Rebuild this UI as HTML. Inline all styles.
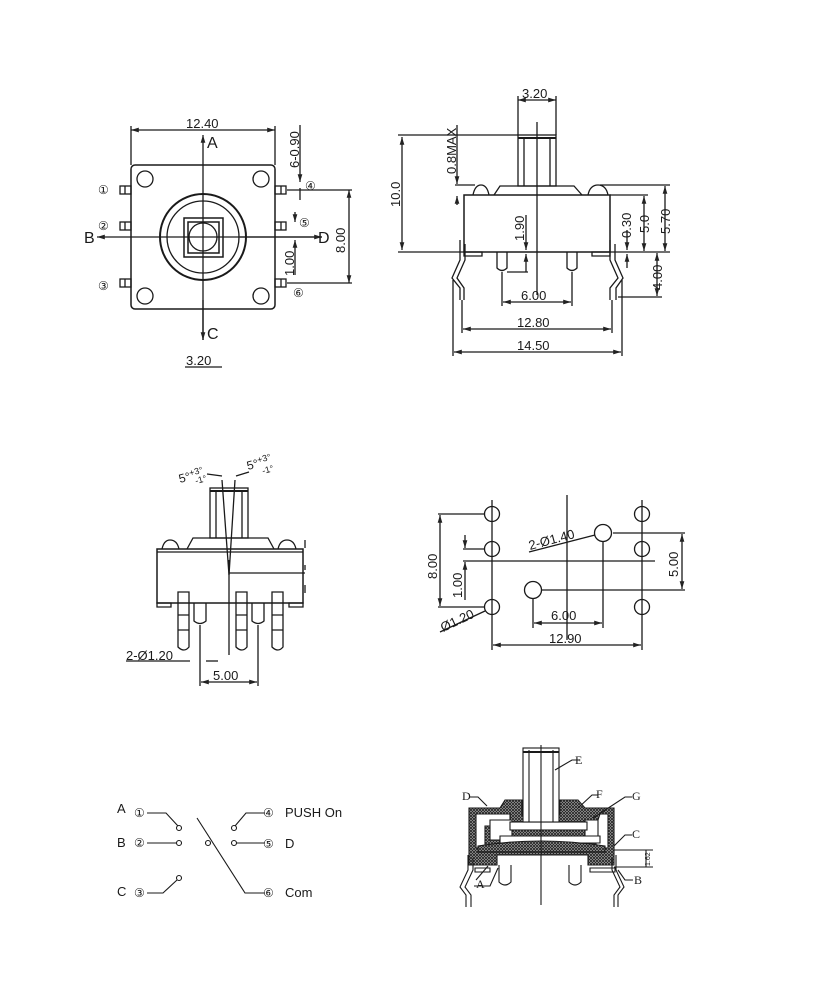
<!DOCTYPE html>
<html><head><meta charset="utf-8"><style>
html,body{margin:0;padding:0;background:#fff}
svg{display:block}
text{font-family:"Liberation Sans","DejaVu Sans",sans-serif;fill:#1a1a1a}
</style></head><body>
<svg width="823" height="989" viewBox="0 0 823 989" xmlns="http://www.w3.org/2000/svg">
<defs>
<pattern id="h" width="3" height="3" patternUnits="userSpaceOnUse">
<rect width="3" height="3" fill="#bbb"/>
<path d="M0 0L3 3M3 0L0 3" stroke="#222" stroke-width="0.9"/>
</pattern>
<marker id="a" viewBox="0 0 10 10" refX="10" refY="5" markerWidth="6" markerHeight="6" orient="auto-start-reverse"><path d="M0 2L10 5L0 8z" fill="#222"/></marker>
</defs>
<g fill="none" stroke="#1a1a1a" stroke-width="1.3">
<!-- TOP VIEW -->
<rect x="131" y="165" width="144" height="144" rx="4" stroke-width="1.5"/>
<circle cx="145" cy="179" r="8"/><circle cx="261" cy="179" r="8"/>
<circle cx="145" cy="296" r="8"/><circle cx="261" cy="296" r="8"/>
<circle cx="203" cy="237" r="43" stroke-width="2"/>
<circle cx="203" cy="237" r="36"/>
<path d="M184 218h39v39h-39z M188 222h31v31h-31z" stroke-width="1.5"/>
<circle cx="203" cy="237" r="14"/>
<g>
<rect x="120" y="186" width="11" height="8"/><line x1="125" y1="186" x2="125" y2="194"/>
<rect x="120" y="222" width="11" height="8"/><line x1="125" y1="222" x2="125" y2="230"/>
<rect x="120" y="279" width="11" height="8"/><line x1="125" y1="279" x2="125" y2="287"/>
<rect x="275" y="186" width="11" height="8"/><line x1="281" y1="186" x2="281" y2="194"/>
<rect x="275" y="222" width="11" height="8"/><line x1="281" y1="222" x2="281" y2="230"/>
<rect x="275" y="279" width="11" height="8"/><line x1="281" y1="279" x2="281" y2="287"/>
</g>
<line x1="203" y1="340" x2="203" y2="135" marker-end="url(#a)"/>
<line x1="203" y1="300" x2="203" y2="340" marker-end="url(#a)"/>
<line x1="322" y1="237" x2="97" y2="237" marker-end="url(#a)"/>
<line x1="240" y1="237" x2="322" y2="237" marker-end="url(#a)"/>
<line x1="131" y1="130" x2="275" y2="130" marker-start="url(#a)" marker-end="url(#a)"/>
<line x1="131" y1="126" x2="131" y2="165"/><line x1="275" y1="126" x2="275" y2="165"/>
<line x1="287" y1="190" x2="352" y2="190"/><line x1="287" y1="283" x2="352" y2="283"/>
<line x1="349" y1="190" x2="349" y2="283" marker-start="url(#a)" marker-end="url(#a)"/>
<line x1="300" y1="125" x2="300" y2="182" marker-end="url(#a)"/>
<line x1="300" y1="200" x2="300" y2="188" />
<line x1="295" y1="212" x2="295" y2="222" marker-end="url(#a)"/>
<line x1="295" y1="275" x2="295" y2="240" marker-end="url(#a)"/>
<line x1="185" y1="367" x2="222" y2="367"/>
</g>
<g font-size="13">
<text x="186" y="128">12.40</text>
<text x="207" y="148" font-size="16">A</text>
<text x="207" y="339" font-size="16">C</text>
<text x="84" y="243" font-size="16">B</text>
<text x="318" y="243" font-size="16">D</text>
<text x="98" y="194" font-size="12">①</text><text x="98" y="230" font-size="12">②</text><text x="98" y="290" font-size="12">③</text>
<text x="305" y="190" font-size="12">④</text><text x="299" y="227" font-size="12">⑤</text><text x="293" y="297" font-size="12">⑥</text>
<text transform="translate(299,168) rotate(-90)">6-0.90</text>
<text transform="translate(345,253) rotate(-90)">8.00</text>
<text transform="translate(294,276) rotate(-90)">1.00</text>
<text x="186" y="365">3.20</text>
</g>

<!-- SIDE VIEW -->
<g fill="none" stroke="#1a1a1a" stroke-width="1.3">
<rect x="518" y="135" width="38" height="51"/>
<line x1="524" y1="138" x2="524" y2="186"/><line x1="550" y1="138" x2="550" y2="186"/>
<line x1="518" y1="138" x2="556" y2="138" stroke-width="2"/>
<path d="M494 195L500 186H574L582 195"/>
<path d="M473 195Q475 185 481 185Q487 185 489 195"/>
<path d="M588 195Q590 185 598 185Q606 185 608 195"/>
<rect x="464" y="195" width="146" height="57" stroke-width="1.5"/>
<path d="M464 252h18v4h-18z M592 252h18v4h-18z"/>
<path d="M497 252v16q5 5 10 0v-16 M567 252v16q5 5 10 0v-16"/>
<path d="M460 240v20l-8 18 8 10v12 M465 244v16l-8 18 7 10v12"/>
<path d="M610 240v20l8 18 -8 10v12 M615 244v16l8 18 -7 10v12"/>
<line x1="537" y1="122" x2="537" y2="295"/>
<line x1="518" y1="100" x2="556" y2="100" marker-start="url(#a)" marker-end="url(#a)"/>
<line x1="518" y1="96" x2="518" y2="135"/><line x1="556" y1="96" x2="556" y2="135"/>
<line x1="398" y1="135" x2="518" y2="135"/><line x1="398" y1="252" x2="464" y2="252"/>
<line x1="402" y1="137" x2="402" y2="250" marker-start="url(#a)" marker-end="url(#a)"/>
<line x1="457" y1="125" x2="457" y2="184" marker-end="url(#a)"/>
<line x1="455" y1="185" x2="475" y2="185"/>
<line x1="457" y1="205" x2="457" y2="196" marker-end="url(#a)"/>
<line x1="526" y1="215" x2="526" y2="250" marker-end="url(#a)"/>
<line x1="526" y1="272" x2="526" y2="254" marker-end="url(#a)"/>
<line x1="507" y1="272" x2="528" y2="272"/>
<line x1="600" y1="185" x2="670" y2="185"/><line x1="610" y1="195" x2="648" y2="195"/>
<line x1="610" y1="252" x2="670" y2="252"/>
<line x1="665" y1="186" x2="665" y2="251" marker-start="url(#a)" marker-end="url(#a)"/>
<line x1="644" y1="196" x2="644" y2="251" marker-start="url(#a)" marker-end="url(#a)"/>
<line x1="627" y1="230" x2="627" y2="250" marker-end="url(#a)"/>
<line x1="627" y1="268" x2="627" y2="254" marker-end="url(#a)"/>
<line x1="618" y1="297" x2="662" y2="297"/>
<line x1="657" y1="253" x2="657" y2="296" marker-start="url(#a)" marker-end="url(#a)"/>
<line x1="502" y1="272" x2="502" y2="306"/><line x1="572" y1="272" x2="572" y2="306"/>
<line x1="503" y1="302" x2="571" y2="302" marker-start="url(#a)" marker-end="url(#a)"/>
<line x1="462" y1="300" x2="462" y2="333"/><line x1="612" y1="300" x2="612" y2="333"/>
<line x1="463" y1="329" x2="611" y2="329" marker-start="url(#a)" marker-end="url(#a)"/>
<line x1="453" y1="280" x2="453" y2="356"/><line x1="622" y1="280" x2="622" y2="356"/>
<line x1="454" y1="352" x2="621" y2="352" marker-start="url(#a)" marker-end="url(#a)"/>
</g>
<g font-size="13">
<text x="522" y="98">3.20</text>
<text transform="translate(400,207) rotate(-90)">10.0</text>
<text transform="translate(456,174) rotate(-90)">0.8MAX</text>
<text transform="translate(524,241) rotate(-90)">1.90</text>
<text transform="translate(631,238) rotate(-90)">0.30</text>
<text transform="translate(649,233) rotate(-90)">5.0</text>
<text transform="translate(670,234) rotate(-90)">5.70</text>
<text transform="translate(662,290) rotate(-90)">4.00</text>
<text x="521" y="300">6.00</text>
<text x="517" y="327">12.80</text>
<text x="517" y="350">14.50</text>
</g>

<!-- FRONT VIEW -->
<g fill="none" stroke="#1a1a1a" stroke-width="1.3">
<rect x="210" y="488" width="38" height="50"/>
<line x1="216" y1="490" x2="216" y2="538"/><line x1="242" y1="490" x2="242" y2="538"/>
<line x1="210" y1="491" x2="248" y2="491" stroke-width="2"/>
<path d="M187 549L193 538H268L274 549"/>
<path d="M162 549Q164 540 170 540Q177 540 179 549"/>
<path d="M278 549Q280 540 287 540Q294 540 296 549"/>
<rect x="157" y="549" width="146" height="54" stroke-width="1.5"/>
<line x1="157" y1="552" x2="303" y2="552"/>
<path d="M157 603h14v4h-14z M289 603h14v4h-14z"/>
<path d="M178 592h11v55q-5 6 -11 0z M236 592h11v55q-5 6 -11 0z M272 592h11v55q-5 6 -11 0z"/>
<path d="M178 615h11M178 630h11M236 615h11M236 630h11M272 615h11M272 630h11"/>
<path d="M194 603v18q6 5 12 0v-18 M252 603v18q6 5 12 0v-18"/>
<path d="M222 480L229 575L235 480"/>
<line x1="229" y1="560" x2="229" y2="655"/>
<line x1="229" y1="573" x2="305" y2="573"/>
<path d="M305 540v8M305 565v5M305 585v8"/>
<line x1="200" y1="625" x2="200" y2="686"/><line x1="258" y1="625" x2="258" y2="686"/>
<line x1="201" y1="682" x2="257" y2="682" marker-start="url(#a)" marker-end="url(#a)"/>
<line x1="126" y1="661" x2="190" y2="661"/>
<line x1="206" y1="661" x2="218" y2="661"/>
<line x1="207" y1="474" x2="222" y2="476"/><line x1="236" y1="476" x2="249" y2="472"/>
</g>
<g font-size="12">
<text transform="translate(180,483) rotate(-15)">5°<tspan font-size="9" dy="-4">+3°</tspan></text>
<text transform="translate(196,484) rotate(-15)" font-size="9">-1°</text>
<text transform="translate(248,470) rotate(-15)">5°<tspan font-size="9" dy="-4">+3°</tspan></text>
<text transform="translate(263,474) rotate(-15)" font-size="9">-1°</text>
<text x="126" y="660" font-size="13">2-Ø1.20</text>
<text x="213" y="680" font-size="13">5.00</text>
</g>

<!-- PCB LAYOUT -->
<g fill="none" stroke="#1a1a1a" stroke-width="1.3">
<circle cx="492" cy="514" r="7.5"/><circle cx="492" cy="549" r="7.5"/><circle cx="492" cy="607" r="7.5"/>
<circle cx="642" cy="514" r="7.5"/><circle cx="642" cy="549" r="7.5"/><circle cx="642" cy="607" r="7.5"/>
<circle cx="603" cy="533" r="8.5"/><circle cx="533" cy="590" r="8.5"/>
<line x1="492" y1="500" x2="492" y2="650"/><line x1="642" y1="500" x2="642" y2="650"/>
<line x1="567" y1="495" x2="567" y2="640"/>
<line x1="463" y1="561" x2="655" y2="561"/>
<line x1="438" y1="514" x2="484" y2="514"/><line x1="438" y1="607" x2="484" y2="607"/>
<line x1="440" y1="515" x2="440" y2="606" marker-start="url(#a)" marker-end="url(#a)"/>
<line x1="463" y1="549" x2="484" y2="549"/>
<line x1="465" y1="535" x2="465" y2="548" marker-end="url(#a)"/>
<line x1="465" y1="600" x2="465" y2="562" marker-end="url(#a)"/>
<line x1="613" y1="533" x2="685" y2="533"/><line x1="541" y1="590" x2="685" y2="590"/>
<line x1="682" y1="534" x2="682" y2="589" marker-start="url(#a)" marker-end="url(#a)"/>
<line x1="533" y1="598" x2="533" y2="628"/><line x1="603" y1="541" x2="603" y2="628"/>
<line x1="534" y1="623" x2="602" y2="623" marker-start="url(#a)" marker-end="url(#a)"/>
<line x1="493" y1="645" x2="641" y2="645" marker-start="url(#a)" marker-end="url(#a)"/>
<line x1="529" y1="552" x2="595" y2="535"/>
<line x1="440" y1="632" x2="485" y2="611"/>
</g>
<g font-size="13">
<text transform="translate(530,550) rotate(-15)">2-Ø1.40</text>
<text transform="translate(437,579) rotate(-90)">8.00</text>
<text transform="translate(462,598) rotate(-90)">1.00</text>
<text transform="translate(678,577) rotate(-90)">5.00</text>
<text transform="translate(443,632) rotate(-25)">Ø1.20</text>
<text x="551" y="620">6.00</text>
<text x="549" y="643">12.90</text>
</g>

<!-- SCHEMATIC -->
<g fill="none" stroke="#1a1a1a" stroke-width="1.1">
<path d="M147 813H166L178 826"/><circle cx="179" cy="828" r="2.5"/>
<path d="M147 843H176"/><circle cx="179" cy="843" r="2.5"/>
<path d="M147 893H163L177 880"/><circle cx="179" cy="878" r="2.5"/>
<path d="M197 818L245 893H265"/><circle cx="208" cy="843" r="2.5"/>
<path d="M235 826L246 813H265"/><circle cx="234" cy="828" r="2.5"/>
<path d="M237 843H265"/><circle cx="234" cy="843" r="2.5"/>
</g>
<g font-size="13">
<text x="117" y="813">A</text><text x="134" y="817" font-size="12">①</text>
<text x="117" y="847">B</text><text x="134" y="847" font-size="12">②</text>
<text x="117" y="896">C</text><text x="134" y="897" font-size="12">③</text>
<text x="263" y="817" font-size="12">④</text><text x="285" y="817">PUSH On</text>
<text x="263" y="848" font-size="12">⑤</text><text x="285" y="848">D</text>
<text x="263" y="897" font-size="12">⑥</text><text x="285" y="897">Com</text>
</g>

<!-- CROSS SECTION -->
<g stroke="#1a1a1a" stroke-width="1.1">
<path d="M469 808H500L505 800H522V815H560V800H578L585 808H614V865H588V855H497V865H469Z" fill="url(#h)"/>
<path d="M476 814H510V826H485V848H476Z M600 814H608V848H596V826Z" fill="#fff"/>
<path d="M490 820H512V840H490Z M585 820H598V840H585Z" fill="#fff"/>
<rect x="510" y="822" width="77" height="8" fill="#fff"/>
<path d="M500 836H600V843H500Z" fill="#fff"/>
<path d="M478 846Q540 836 605 846V852H478Z" fill="url(#h)"/>
<rect x="523" y="748" width="36" height="74" fill="#fff"/>
<line x1="529" y1="750" x2="529" y2="822"/><line x1="553" y1="750" x2="553" y2="822"/>
<line x1="523" y1="752" x2="559" y2="752" stroke-width="2"/>
<path d="M475 868h15v4h-15z M590 868h25v4h-25z" fill="#fff"/>
<path d="M499 865v17q6 6 12 0v-17 M569 865v17q6 6 12 0v-17" fill="none"/>
<path d="M468 855v15l-8 17 6 8v12 M473 858v12l-8 17 6 8v12" fill="none"/>
<path d="M616 855v15l8 17 -6 8v12 M612 858v12l8 17 -6 8v12" fill="none"/>
<line x1="541" y1="745" x2="541" y2="905"/>
<path d="M614 850H653M614 867H653M646 850v17" fill="none"/>
<g fill="none">
<path d="M555 770L572 760H580"/>
<path d="M578 808L592 795H598"/>
<path d="M593 818L625 797H632"/>
<path d="M614 846L625 835H632"/>
<path d="M476 880L488 866"/><path d="M474 886H490L498 868"/>
<path d="M618 870L625 880H633"/>
<path d="M470 797H478L487 806"/>
</g>
</g>
<g font-size="12">
<text x="575" y="764" style="font-family:'Liberation Serif',serif">E</text>
<text x="596" y="798" style="font-family:'Liberation Serif',serif">F</text>
<text x="632" y="800" style="font-family:'Liberation Serif',serif">G</text>
<text x="632" y="838" style="font-family:'Liberation Serif',serif">C</text>
<text x="462" y="800" style="font-family:'Liberation Serif',serif">D</text>
<text x="476" y="888" style="font-family:'Liberation Serif',serif">A</text>
<text x="634" y="884" style="font-family:'Liberation Serif',serif">B</text>
<text transform="translate(650,866) rotate(-90)" font-size="7">1.62</text>
</g>
</svg>
</body></html>
